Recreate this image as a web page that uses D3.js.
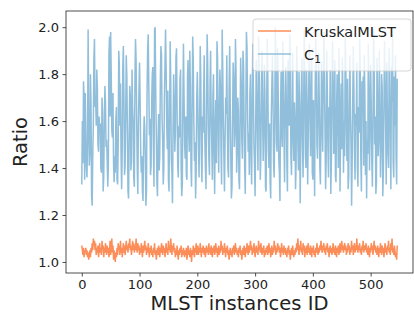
<!DOCTYPE html>
<html>
<head>
<style>
  body { margin: 0; background: #fff; }
  svg { font-family: "DejaVu Sans", sans-serif; }
</style>
</head>
<body>
<div id="chart"></div>
<script src="https://cdnjs.cloudflare.com/ajax/libs/d3/7.8.5/d3.min.js"></script>
<script>
// C1 ratio per instance
var c1Values = [
  1.33,1.60,1.42,1.77,1.70,1.35,1.72,1.56,1.40,1.36,
  1.52,1.99,1.62,1.41,1.46,1.80,1.68,1.28,1.24,1.45,
  1.58,1.87,1.95,1.66,1.70,1.58,1.82,1.74,1.50,1.47,
  1.62,1.55,1.59,1.40,1.38,1.70,1.64,1.30,1.36,1.58,
  1.75,1.68,1.49,1.52,1.43,1.32,1.41,1.88,1.96,1.62,
  1.98,1.80,1.56,1.53,1.72,1.42,1.34,1.45,1.38,1.61,
  1.66,1.35,1.33,1.49,1.90,1.84,1.58,1.76,1.45,1.31,
  1.48,1.83,1.92,1.70,1.37,1.41,1.62,1.88,1.79,1.55,
  1.30,1.27,1.52,1.75,1.71,1.39,1.43,1.82,1.66,1.60,
  1.36,1.32,1.77,1.95,1.86,1.62,1.40,1.29,1.58,1.74,
  1.85,1.69,1.47,1.38,1.45,1.30,1.26,1.51,1.62,1.57,
  1.44,1.24,1.30,1.72,1.90,1.97,1.76,1.54,1.61,1.37,
  1.41,1.68,1.80,1.83,1.48,1.32,1.99,2.00,1.73,1.55,
  1.34,1.28,1.50,1.63,1.39,1.45,1.78,1.92,1.88,1.61,
  1.52,1.33,1.40,1.70,1.84,1.99,1.83,1.59,1.48,1.73,
  1.35,1.30,1.62,1.94,1.77,1.44,1.38,1.25,1.57,1.80,
  1.69,1.47,1.55,1.87,1.91,1.65,1.42,1.36,1.58,1.53,
  1.78,1.82,1.40,1.28,1.33,1.68,1.93,1.71,1.50,1.44,
  1.62,1.37,1.35,1.79,1.86,1.56,1.47,1.90,1.74,1.40,
  1.32,1.64,1.96,1.85,1.59,1.43,1.51,1.27,1.39,1.70,
  1.81,1.66,1.48,1.36,1.58,1.92,1.78,1.45,1.34,1.62,
  1.55,1.73,1.88,1.52,1.40,1.31,1.66,1.97,1.84,1.57,
  1.44,1.37,1.76,1.90,1.62,1.50,1.35,1.71,1.80,1.46,
  1.29,1.58,1.69,1.42,1.94,1.87,1.55,1.38,1.64,1.82,
  1.75,1.48,1.33,1.99,1.82,1.60,1.45,1.30,1.52,1.70,
  1.63,1.88,1.57,1.40,1.36,1.74,1.92,1.66,1.43,1.27,
  1.32,1.61,1.85,1.78,1.49,1.55,1.95,1.81,1.38,1.46,
  1.70,1.64,1.35,1.31,1.58,1.87,1.76,1.52,1.44,1.90,
  1.84,1.59,1.40,1.29,1.66,1.98,1.91,1.63,1.47,1.55,
  1.37,1.72,1.80,1.45,1.33,1.68,1.93,1.74,1.50,1.41,
  1.28,1.57,1.86,1.70,1.52,1.39,1.96,1.82,1.60,1.35,
  1.46,1.77,1.90,1.62,1.43,1.56,1.84,1.71,1.32,1.30,
  1.65,1.95,1.79,1.48,1.40,1.59,1.34,1.27,1.62,1.75,
  1.88,1.69,1.42,1.36,1.60,2.00,1.83,1.51,1.47,1.91,
  1.72,1.44,1.38,1.26,1.64,1.81,1.55,1.49,1.94,1.78,
  1.53,1.34,1.66,1.83,1.70,1.41,1.30,1.86,1.76,1.58,
  1.97,1.80,1.45,1.37,1.63,1.89,1.54,1.43,1.68,1.60,
  1.31,1.42,1.92,1.75,1.50,1.39,1.81,1.67,1.25,1.48,
  1.71,1.87,1.52,1.36,1.64,1.99,1.78,1.46,1.40,1.82,
  1.66,1.33,1.54,1.79,1.93,1.61,1.45,1.72,1.87,1.38,
  1.35,1.69,1.57,1.28,1.74,1.95,1.83,1.50,1.44,1.63,
  1.89,1.70,1.41,1.33,1.58,1.85,1.62,1.47,1.76,1.98,
  1.80,1.55,1.31,1.43,1.90,1.73,1.49,1.36,1.66,1.59,
  1.82,1.29,1.42,1.68,1.94,1.77,1.46,1.52,1.86,1.37,
  1.34,1.65,1.80,1.61,1.40,1.91,1.70,1.30,1.55,1.76,
  1.48,1.87,1.72,1.38,1.60,1.45,1.96,1.84,1.57,1.43,
  1.78,1.31,1.36,1.62,1.88,1.65,1.50,1.24,1.42,1.69,
  1.92,1.74,1.47,1.35,1.63,1.58,1.85,1.40,1.32,1.66,
  1.55,1.95,1.81,1.44,1.30,1.77,1.63,1.79,1.41,1.88,
  1.71,1.37,1.60,1.27,1.52,1.46,1.93,1.75,1.39,1.56,
  1.84,1.68,1.43,1.32,1.59,1.99,1.86,1.50,1.62,1.29,
  1.34,1.87,1.70,1.45,1.53,1.90,1.64,1.36,1.48,1.80,
  1.74,1.28,1.39,1.66,1.94,1.78,1.57,1.33,1.85,1.61,
  1.46,1.40,1.91,1.72,1.54,1.31,1.83,1.68,1.97,1.42,
  1.36,1.79,1.58,1.88,1.45,1.33,1.78
];

// KruskalMLST ratio per instance
var kruskalValues = [
  1.07,1.05,1.03,1.06,1.02,1.05,1.04,1.06,1.03,1.05,
  1.02,1.04,1.01,1.03,1.05,1.02,1.06,1.04,1.08,1.05,
  1.10,1.07,1.09,1.05,1.08,1.03,1.06,1.04,1.07,1.02,
  1.05,1.08,1.04,1.06,1.03,1.09,1.05,1.07,1.02,1.06,
  1.04,1.08,1.05,1.03,1.07,1.04,1.06,1.02,1.05,1.09,
  1.03,1.06,1.10,1.04,1.07,1.01,1.05,1.03,1.00,1.04,
  1.02,1.06,1.03,1.08,1.05,1.07,1.03,1.09,1.04,1.06,
  1.02,1.05,1.08,1.04,1.07,1.03,1.06,1.09,1.05,1.07,
  1.04,1.08,1.06,1.10,1.05,1.07,1.03,1.06,1.09,1.05,
  1.08,1.04,1.07,1.05,1.10,1.06,1.04,1.08,1.05,1.07,
  1.03,1.06,1.04,1.08,1.05,1.02,1.07,1.04,1.06,1.09,
  1.05,1.07,1.03,1.06,1.04,1.08,1.05,1.02,1.06,1.04,
  1.07,1.03,1.05,1.02,1.06,1.04,1.08,1.03,1.05,1.01,
  1.04,1.06,1.03,1.07,1.05,1.02,1.06,1.04,1.08,1.05,
  1.03,1.07,1.04,1.06,1.02,1.05,1.08,1.04,1.06,1.03,
  1.09,1.05,1.07,1.04,1.10,1.06,1.03,1.07,1.05,1.08,
  1.04,1.06,1.02,1.05,1.03,1.07,1.04,1.01,1.05,1.03,
  1.06,1.04,1.07,1.02,1.05,1.03,1.06,1.04,1.02,1.05,
  1.03,1.06,1.01,1.04,1.07,1.03,1.05,1.02,1.06,1.04,
  1.00,1.05,1.03,1.07,1.04,1.02,1.06,1.04,1.08,1.03,
  1.05,1.07,1.03,1.06,1.04,1.08,1.05,1.02,1.06,1.04,
  1.07,1.05,1.03,1.06,1.02,1.05,1.07,1.04,1.06,1.03,
  1.08,1.04,1.06,1.03,1.07,1.05,1.02,1.06,1.04,1.07,
  1.03,1.05,1.08,1.04,1.06,1.02,1.05,1.07,1.03,1.06,
  1.04,1.09,1.05,1.07,1.03,1.06,1.04,1.08,1.05,1.02,
  1.06,1.04,1.07,1.03,1.05,1.01,1.04,1.06,1.03,1.05,
  1.02,1.06,1.04,1.07,1.03,1.05,1.08,1.04,1.06,1.03,
  1.05,1.02,1.06,1.04,1.07,1.03,1.05,1.01,1.04,1.06,
  1.03,1.07,1.05,1.02,1.06,1.04,1.08,1.05,1.03,1.07,
  1.04,1.06,1.09,1.05,1.07,1.03,1.06,1.04,1.08,1.05,
  1.02,1.05,1.07,1.04,1.06,1.03,1.09,1.05,1.07,1.04,
  1.08,1.05,1.03,1.06,1.04,1.07,1.02,1.05,1.03,1.06,
  1.04,1.07,1.03,1.05,1.08,1.04,1.06,1.02,1.05,1.07,
  1.03,1.06,1.04,1.09,1.05,1.07,1.03,1.06,1.04,1.08,
  1.05,1.07,1.04,1.06,1.02,1.05,1.08,1.04,1.06,1.03,
  1.07,1.04,1.06,1.03,1.05,1.02,1.06,1.04,1.07,1.03,
  1.05,1.01,1.04,1.06,1.03,1.07,1.04,1.02,1.05,1.03,
  1.06,1.04,1.08,1.05,1.10,1.06,1.03,1.07,1.05,1.09,
  1.04,1.06,1.03,1.08,1.05,1.07,1.02,1.06,1.04,1.07,
  1.03,1.05,1.08,1.04,1.06,1.03,1.07,1.05,1.02,1.06,
  1.04,1.07,1.03,1.05,1.02,1.06,1.04,1.08,1.05,1.03,
  1.06,1.04,1.07,1.05,1.09,1.06,1.04,1.07,1.05,1.08,
  1.04,1.06,1.03,1.07,1.05,1.08,1.04,1.06,1.02,1.05,
  1.07,1.04,1.06,1.03,1.05,1.08,1.04,1.06,1.03,1.07,
  1.05,1.02,1.06,1.04,1.07,1.03,1.05,1.08,1.04,1.06,
  1.09,1.05,1.07,1.04,1.06,1.08,1.05,1.07,1.03,1.06,
  1.04,1.08,1.05,1.07,1.03,1.06,1.04,1.09,1.05,1.07,
  1.03,1.06,1.08,1.04,1.07,1.05,1.10,1.06,1.04,1.07,
  1.05,1.08,1.04,1.06,1.03,1.07,1.05,1.09,1.04,1.06,
  1.07,1.05,1.08,1.04,1.06,1.03,1.07,1.05,1.02,1.06,
  1.04,1.08,1.05,1.07,1.03,1.06,1.09,1.05,1.07,1.04,
  1.06,1.03,1.07,1.05,1.02,1.06,1.04,1.08,1.05,1.03,
  1.07,1.04,1.06,1.02,1.05,1.08,1.04,1.06,1.03,1.07,
  1.05,1.09,1.04,1.06,1.03,1.08,1.05,1.10,1.04,1.06,
  1.03,1.07,1.05,1.02,1.04,1.01,1.07
];

var seriesNames = ["KruskalMLST", "C1"];
var seriesColors = ["#fc8d59", "#91bfdb"];
var xTicks = [0, 100, 200, 300, 400, 500];
var yTicks = [1.0, 1.2, 1.4, 1.6, 1.8, 2.0];

var width = 414, height = 315;
var margin = {top: 11, right: 1, bottom: 42, left: 66};

var svg = d3.select("#chart").append("svg")
    .attr("width", width)
    .attr("height", height);

var n = c1Values.length;
var pad = (n - 1) * 0.05;
var x = d3.scaleLinear()
    .domain([-pad, n - 1 + pad])
    .range([margin.left, width - margin.right]);
var y = d3.scaleLinear()
    .domain([0.953, 2.069])
    .range([height - margin.bottom, margin.top]);

var line = d3.line()
    .x(function(d, i) { return x(i); })
    .y(function(d) { return y(d); });

svg.append("path")
    .datum(kruskalValues)
    .attr("fill", "none")
    .attr("stroke", seriesColors[0])
    .attr("stroke-width", 1.5)
    .attr("d", line);

svg.append("path")
    .datum(c1Values)
    .attr("fill", "none")
    .attr("stroke", seriesColors[1])
    .attr("stroke-width", 1.5)
    .attr("d", line);

// axes
var xAxis = svg.append("g")
    .attr("transform", "translate(0," + (height - margin.bottom) + ")")
    .call(d3.axisBottom(x).tickValues(xTicks).tickSize(3.5).tickPadding(3.5).tickFormat(d3.format("d")));
var yAxis = svg.append("g")
    .attr("transform", "translate(" + margin.left + ",0)")
    .call(d3.axisLeft(y).tickValues(yTicks).tickSize(3.5).tickPadding(3.5).tickFormat(d3.format(".1f")));

[xAxis, yAxis].forEach(function(g) {
    g.select(".domain").remove();
    g.selectAll("line").attr("stroke", "#222").attr("stroke-width", 0.8);
    g.selectAll("text").attr("fill", "#222").style("font-size", "13px").style("font-family", "DejaVu Sans");
});

// frame
svg.append("rect")
    .attr("x", margin.left)
    .attr("y", margin.top)
    .attr("width", width - margin.left - margin.right)
    .attr("height", height - margin.top - margin.bottom)
    .attr("fill", "none")
    .attr("stroke", "#222")
    .attr("stroke-width", 0.8);

// axis titles
svg.append("text")
    .attr("x", (margin.left + width - margin.right) / 2)
    .attr("y", 310)
    .attr("text-anchor", "middle")
    .style("font-size", "19.5px")
    .attr("fill", "#222")
    .text("MLST instances ID");

svg.append("text")
    .attr("transform", "translate(27," + (margin.top + (height - margin.top - margin.bottom) / 2) + ") rotate(-90)")
    .attr("text-anchor", "middle")
    .style("font-size", "19.5px")
    .attr("fill", "#222")
    .text("Ratio");

// legend
var legend = svg.append("g").attr("transform", "translate(253,19)");
legend.append("rect")
    .attr("width", 158)
    .attr("height", 52)
    .attr("rx", 3)
    .attr("fill", "white")
    .attr("fill-opacity", 0.8)
    .attr("stroke", "#ccc")
    .attr("stroke-width", 0.8);

seriesNames.forEach(function(name, i) {
    var row = legend.append("g").attr("transform", "translate(0," + (12 + i * 23) + ")");
    row.append("line")
        .attr("x1", 5).attr("x2", 38)
        .attr("stroke", seriesColors[i])
        .attr("stroke-width", 1.5);
    var t = row.append("text")
        .attr("x", 51)
        .attr("y", 5.5)
        .style("font-size", "14.5px")
        .attr("fill", "#222");
    if (name === "C1") {
        t.text("C");
        t.append("tspan").attr("dy", 3).style("font-size", "10.5px").text("1");
    } else {
        t.text(name);
    }
});
</script>
</body>
</html>
